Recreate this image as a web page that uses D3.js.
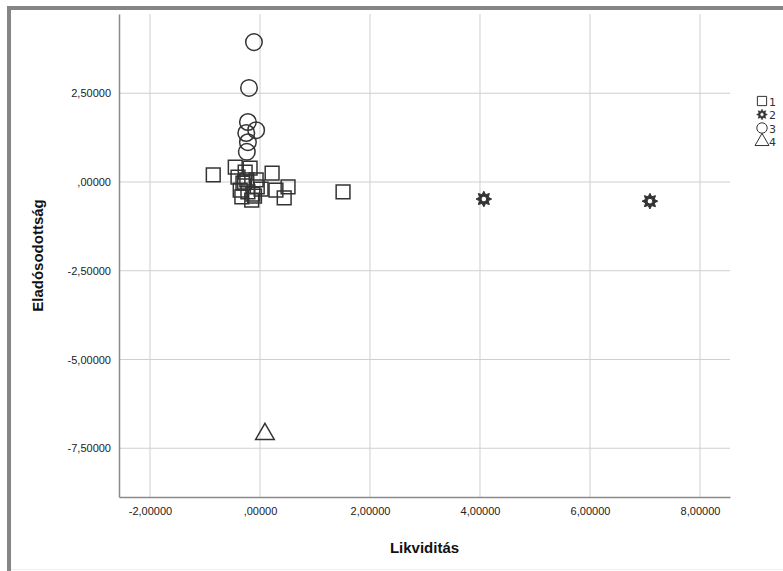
<!DOCTYPE html>
<html><head><meta charset="utf-8">
<script src="https://cdn.jsdelivr.net/npm/d3@7"></script>
<style>body{margin:0;background:#fff}svg{display:block}</style>
</head><body>
<svg id="c" width="783" height="571"></svg>
<script>
const xTicks = [-2, 0, 2, 4, 6, 8];
const yTicks = [2.5, 0, -2.5, -5, -7.5];
const clusters = ["1", "2", "3", "4"];
// cluster 1 (squares)
const c1x = [-0.85, 0.22, 1.51, -0.40, -0.27, -0.24, -0.07, -0.36, -0.22, -0.15, -0.33, 0.02, 0.29, 0.51, 0.44, -0.45, -0.05, -0.18, -0.31, -0.13, -0.10, -0.28];
const c1y = [0.20, 0.25, -0.28, 0.14, 0.28, 0.06, 0.06, -0.23, -0.28, -0.51, -0.42, -0.20, -0.23, -0.14, -0.45, 0.42, -0.14, 0.39, -0.03, -0.34, -0.40, 0.00];
// cluster 2 (stars)
const c2x = [4.07, 7.09];
const c2y = [-0.48, -0.54];
// cluster 3 (circles)
const c3x = [-0.11, -0.20, -0.22, -0.25, -0.07, -0.22, -0.24];
const c3y = [3.94, 2.65, 1.69, 1.38, 1.46, 1.12, 0.85];
// cluster 4 (triangle)
const c4x = [0.09];
const c4y = [-7.10];

const xTitle = "Likviditás";
const yTitle = "Eladósodottság";

const svg = d3.select("#c");
const L = 119, R = 730, T = 14, B = 497;
const x = d3.scaleLinear().domain([-2.5636, 8.5455]).range([L, R]);
const y = d3.scaleLinear().domain([-8.873, 4.732]).range([B, T]);

const fmt = v => {
  let s = Math.abs(v).toFixed(5).replace(".", ",");
  if (s.startsWith("0,")) s = s.slice(1);
  return (v < 0 ? "-" : "") + s;
};

// frame
svg.append("rect").attr("x", 7).attr("y", 6).attr("width", 776).attr("height", 4).attr("fill", "#858585");
svg.append("rect").attr("x", 7).attr("y", 6).attr("width", 4).attr("height", 565).attr("fill", "#858585");
svg.append("line").attr("x1", 11).attr("x2", 783).attr("y1", 569.5).attr("y2", 569.5).attr("stroke", "#eee");

// grid
const g = svg.append("g");
g.selectAll(".vx").data(xTicks).join("line")
  .attr("x1", d => x(d)).attr("x2", d => x(d)).attr("y1", T).attr("y2", B)
  .attr("stroke", "#cfcfcf").attr("stroke-width", 1);
g.selectAll(".hy").data(yTicks).join("line")
  .attr("x1", L).attr("x2", R).attr("y1", d => y(d)).attr("y2", d => y(d))
  .attr("stroke", "#cfcfcf").attr("stroke-width", 1);

// axes
const xa = svg.append("g").attr("transform", `translate(0,${B})`)
  .call(d3.axisBottom(x).tickValues(xTicks).tickFormat(fmt).tickSize(0).tickPadding(10));
const ya = svg.append("g").attr("transform", `translate(${L},0)`)
  .call(d3.axisLeft(y).tickValues(yTicks).tickFormat(fmt).tickSize(0).tickPadding(8));
[xa, ya].forEach(a => {
  a.select(".domain").attr("stroke", "#8a8a8a").attr("stroke-width", 1.5);
  a.selectAll("text").attr("font-family", "Liberation Sans, Arial, sans-serif").attr("font-size", 11).attr("fill", "#222");
});

svg.append("text").attr("x", (L + R) / 2).attr("y", 553).attr("text-anchor", "middle")
  .attr("font-family", "Liberation Sans, Arial, sans-serif").attr("font-weight", "bold").attr("font-size", 15).attr("fill", "#111").text(xTitle);
svg.append("text").attr("transform", `translate(43,${(T + B) / 2}) rotate(-90)`).attr("text-anchor", "middle")
  .attr("font-family", "Liberation Sans, Arial, sans-serif").attr("font-weight", "bold").attr("font-size", 15).attr("fill", "#111").text(yTitle);

// symbols
const sunStar = {
  draw(ctx, size) {
    const ro = Math.sqrt(size) * 0.6, ri = ro * 0.6, n = 8;
    for (let i = 0; i < 2 * n; i++) {
      const r = i % 2 ? ri : ro, a = Math.PI * i / n - Math.PI / 2;
      if (i === 0) ctx.moveTo(r * Math.cos(a), r * Math.sin(a)); else ctx.lineTo(r * Math.cos(a), r * Math.sin(a));
    }
    ctx.closePath();
    const rc = ri * 0.6;
    ctx.moveTo(rc, 0); ctx.arc(0, 0, rc, 0, 2 * Math.PI);
  }
};
const types = [d3.symbolSquare, sunStar, d3.symbolCircle, d3.symbolTriangle];
const sizes = [190, 170, 215, 150];
const fills = ["none", "#333", "none", "none"];
const sets = [[c1x, c1y], [c2x, c2y], [c3x, c3y], [c4x, c4y]];

const pts = svg.append("g");
sets.forEach(([xs, ys], k) => {
  const data = xs.map((v, i) => [v, ys[i]]);
  pts.append("g").selectAll("path").data(data).join("path")
    .attr("transform", d => `translate(${x(d[0])},${y(d[1])})`)
    .attr("d", d3.symbol().type(types[k]).size(sizes[k]))
    .attr("fill", fills[k]).attr("fill-rule", "evenodd")
    .attr("stroke", "#333").attr("stroke-width", k === 1 ? 1 : 1.5);
});

// legend
const lg = svg.append("g").attr("transform", "translate(762,101)");
clusters.forEach((c, k) => {
  const row = lg.append("g").attr("transform", `translate(0,${k * 13.5})`);
  row.append("path").attr("d", d3.symbol().type(types[k]).size(k === 1 ? 80 : 85))
    .attr("fill", fills[k]).attr("fill-rule", "evenodd").attr("stroke", "#333").attr("stroke-width", k === 1 ? 0.6 : 1);
  row.append("text").attr("x", 7).attr("y", 4.5).attr("font-family", "DejaVu Sans, sans-serif").attr("font-size", 11).attr("fill", "#333").text(c);
});
</script>
</body></html>
